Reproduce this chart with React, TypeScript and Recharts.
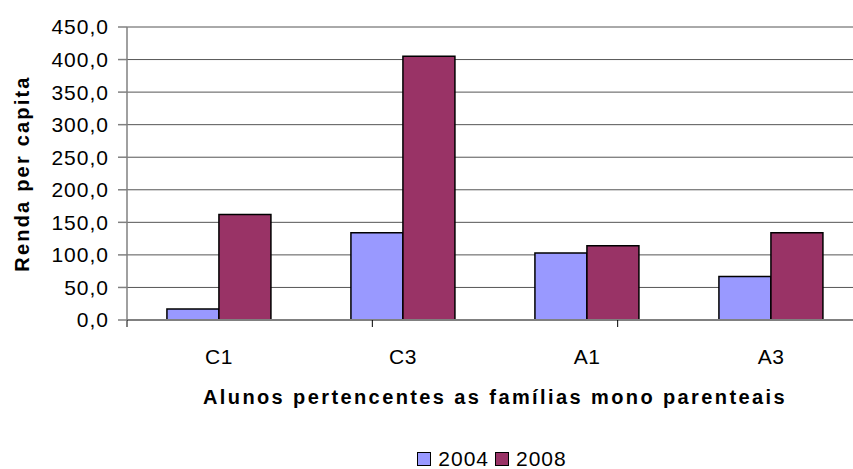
import React from 'react';
import { BarChart, Bar, XAxis, YAxis, CartesianGrid, Legend } from 'recharts';

const categories = ['C1', 'C3', 'A1', 'A3'];
const values2004 = [17, 134, 103, 67];
const values2008 = [162, 405, 114, 134];
const yTicks = [0, 50, 100, 150, 200, 250, 300, 350, 400, 450];
const boundaryTicks = [0, 1, 2, 3, 4];

const seriesList = [
  { key: 'y2004', name: '2004', color: '#9999FF', values: values2004 },
  { key: 'y2008', name: '2008', color: '#993366', values: values2008 },
];

const data = categories.map((cat, i) => {
  const row: Record<string, string | number> = { cat };
  seriesList.forEach((s) => {
    row[s.key] = s.values[i];
  });
  return row;
});

const FONT = '"Liberation Sans", Arial, Helvetica, sans-serif';

const fmt = (v: number) => v.toFixed(1).replace('.', ',');

function LegendBox() {
  return (
    <div
      style={{
        display: 'flex',
        justifyContent: 'center',
        alignItems: 'center',
        fontFamily: FONT,
        fontSize: 21,
        letterSpacing: 1,
        lineHeight: '24px',
        color: '#000',
        whiteSpace: 'nowrap',
      }}
    >
      {seriesList.map((s) => (
        <div key={s.key} style={{ display: 'flex', alignItems: 'center', marginRight: 6 }}>
          <span
            style={{
              display: 'inline-block',
              width: 12,
              height: 12,
              background: s.color,
              border: '1px solid #000',
              marginRight: 7,
            }}
          />
          <span>{s.name}</span>
        </div>
      ))}
    </div>
  );
}

function YTitle(props: any) {
  const vb = props.viewBox || {};
  const cy = vb.y + vb.height / 2;
  return (
    <text
      x={29}
      y={cy}
      transform={`rotate(-90, 29, ${cy})`}
      textAnchor="middle"
      fontFamily={FONT}
      fontSize={20}
      fontWeight="bold"
      letterSpacing={2.2}
      fill="#000"
    >
      Renda per capita
    </text>
  );
}

function XTitle(props: any) {
  const vb = props.viewBox || {};
  const cx = vb.x + vb.width / 2;
  return (
    <text
      x={cx}
      y={vb.y + 83}
      textAnchor="middle"
      fontFamily={FONT}
      fontSize={20}
      fontWeight="bold"
      letterSpacing={2.4}
      fill="#000"
    >
      Alunos pertencentes as famílias mono parenteais
    </text>
  );
}

export default function App() {
  return (
    <div
      style={{
        position: 'absolute',
        left: 0,
        top: 0,
        width: 853,
        height: 469,
        overflow: 'hidden',
        background: '#fff',
      }}
    >
      <BarChart
        width={870}
        height={469}
        data={data}
        margin={{ top: 27, right: 7, bottom: 147, left: 0 }}
        barCategoryGap="21.7%"
        barGap={0}
      >
        <CartesianGrid vertical={false} stroke="#555" strokeWidth={1} yAxisId="val" xAxisId="cat" />
        <XAxis
          xAxisId="cat"
          dataKey="cat"
          height={1}
          axisLine={false}
          tickLine={false}
          tickSize={0}
          tickMargin={28}
          tick={{ fontFamily: FONT, fontSize: 21, fill: '#000', letterSpacing: 0.5 }}
          label={<XTitle />}
        />
        <XAxis
          xAxisId="bounds"
          type="number"
          domain={[0, 4]}
          ticks={boundaryTicks}
          interval={0}
          height={1}
          tickFormatter={() => ''}
          tickSize={7}
          tickLine={{ stroke: '#000', strokeWidth: 1 }}
          stroke="#808080"
          strokeWidth={2}
          allowDataOverflow
        />
        <YAxis
          yAxisId="val"
          width={127}
          domain={[0, 450]}
          ticks={yTicks}
          interval={0}
          tickFormatter={fmt}
          tickSize={9}
          tickMargin={9}
          stroke="#808080"
          strokeWidth={1.5}
          tick={{ fontFamily: FONT, fontSize: 21, fill: '#000', letterSpacing: 1 }}
          label={<YTitle />}
        />
        <Legend
          layout="vertical"
          align="center"
          verticalAlign="middle"
          content={() => <LegendBox />}
          wrapperStyle={{ position: 'absolute', top: 447, left: 127, width: 736 }}
        />
        {seriesList.map((s) => (
          <Bar
            key={s.key}
            xAxisId="cat"
            yAxisId="val"
            dataKey={s.key}
            name={s.name}
            fill={s.color}
            stroke="#000"
            strokeWidth={1.5}
            isAnimationActive={false}
          />
        ))}
      </BarChart>
    </div>
  );
}
